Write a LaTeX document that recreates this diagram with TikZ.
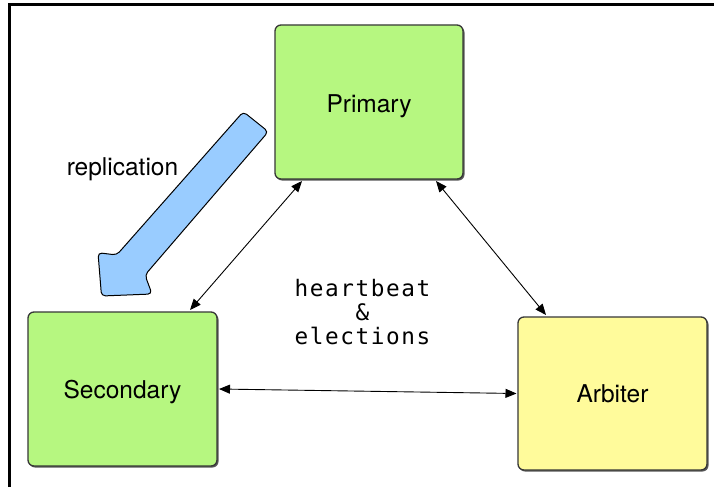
\documentclass[tikz,border=0pt]{standalone}
\usepackage{fontspec}
\setmainfont{TeX Gyre Heros}
\newfontfamily\codefont[LetterSpace=7]{DejaVu Sans Mono}
\usetikzlibrary{arrows.meta,calc}
\definecolor{boxgreen}{RGB}{182,247,128}
\definecolor{boxyellow}{RGB}{255,251,155}
\definecolor{flowblue}{RGB}{153,204,255}
\definecolor{edge}{RGB}{55,55,55}
\tikzset{
  member/.style={draw=edge, line width=1.3pt, rounded corners=6pt,
    minimum width=189pt, minimum height=154pt, inner sep=0pt, outer sep=0pt},
  shade/.style={fill=black!65, rounded corners=6pt},
  lbl/.style={font=\fontsize{24.5}{28}\selectfont, inner sep=0pt, anchor=base},
  link/.style={line width=0.9pt, {Triangle[length=11pt,width=9pt]}-{Triangle[length=11pt,width=9pt]}},
}
\begin{document}
\begin{tikzpicture}[x=1pt,y=-1pt]
\useasboundingbox (0,0) rectangle (714,487);
\fill[white] (0,0) rectangle (714,487);
% page frame along the top and left edges
\draw[line width=3pt] (9.5,487) -- (9.5,5) -- (714,5);

% shadows under the boxes
\fill[shade] (276,26.5) rectangle (464.5,180.5);
\fill[shade] (29,313.5) rectangle (218.5,467.5);
\fill[shade] (519,318.5) rectangle (708.5,471.5);

% replica set members
\node[member, fill=boxgreen, minimum width=188pt] (prim) at (369,102) {};
\node[member, fill=boxgreen] (sec) at (122.5,389) {};
\node[member, fill=boxyellow, minimum height=153pt] (arb) at (612.5,393.5) {};

\node[lbl] (primtext) at (369,112.5) {Primary};
\node[lbl] (sectext) at (122.5,398.3) {Secondary};
\node[lbl] (arbtext) at (612.5,402.3) {Arbiter};

% replication flow arrow
\draw[fill=flowblue, line width=1pt, rounded corners=4pt]
  (243.3,111.7) -- (268.3,131.7) -- (145,275) -- (152,294) -- (101.5,296)
  -- (98,252.7) -- (116.7,255) -- cycle;
\node[lbl] (repl) at (122.5,175) {replication};

% heartbeat links
\coordinate (ps1) at ($(prim.south west)+(27,2)$);
\coordinate (ps2) at ($(sec.north west)+(162,-2)$);
\coordinate (pa1) at ($(prim.south west)+(161,2)$);
\coordinate (pa2) at ($(arb.north west)+(28,-2)$);
\coordinate (sa1) at ($(sec.east)+(2,0)$);
\coordinate (sa2) at ($(arb.west)+(-1.5,0)$);
\draw[link] (ps1) -- (ps2);
\draw[link] (pa1) -- (pa2);
\draw[link] (sa1) -- (sa2);

\node[font=\codefont\fontsize{22.7}{24}\selectfont, align=center, inner sep=0pt, anchor=base]
  (hb) at (362.5,344) {heartbeat\\\&\\elections};
\end{tikzpicture}
\end{document}
